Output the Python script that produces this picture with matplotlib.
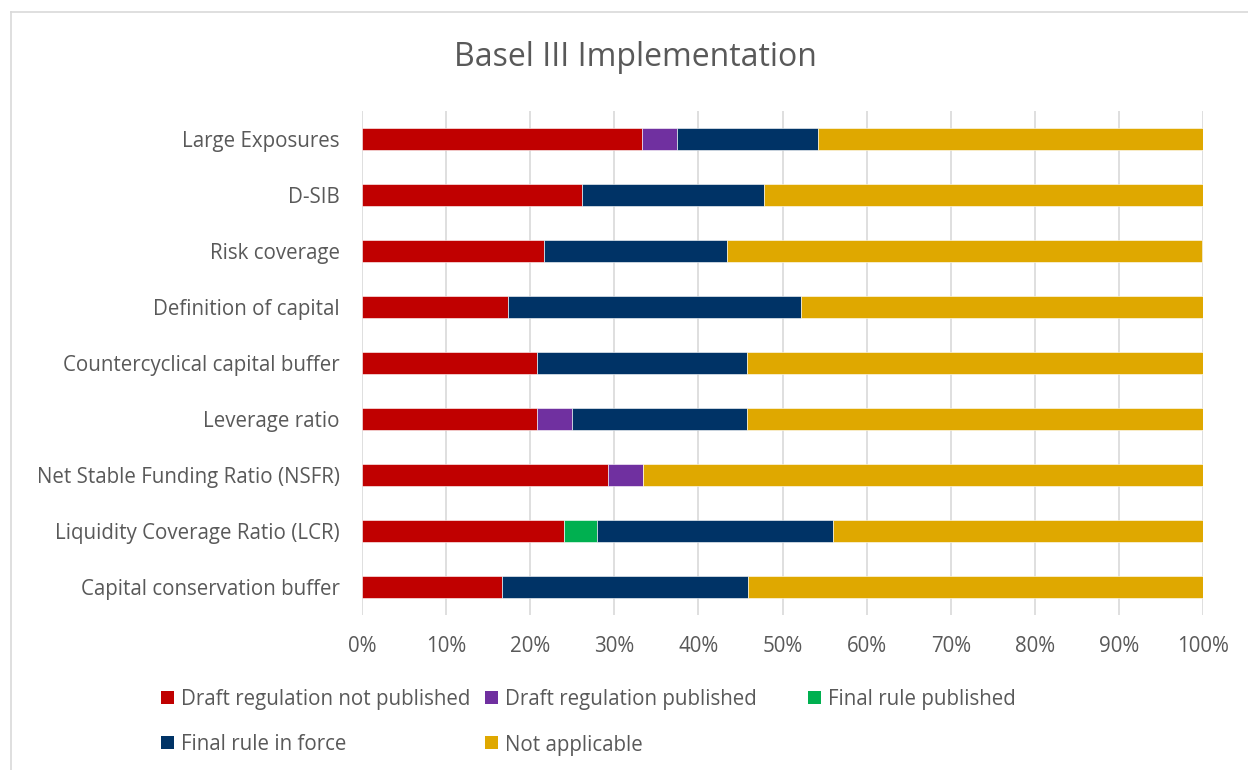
import matplotlib
matplotlib.use("Agg")
import matplotlib.pyplot as plt
import numpy as np
from matplotlib.patches import Rectangle
from matplotlib.lines import Line2D

# categories, bottom to top (as drawn on the y axis)
categories = [
    "Capital conservation buffer",
    "Liquidity Coverage Ratio (LCR)",
    "Net Stable Funding Ratio (NSFR)",
    "Leverage ratio",
    "Countercyclical capital buffer",
    "Definition of capital",
    "Risk coverage",
    "D-SIB",
    "Large Exposures",
]

# share of jurisdictions in each status (%), same order as categories
draft_not_published = [16.7, 24.0, 29.2, 20.8, 20.8, 17.4, 21.7, 26.1, 33.3]
draft_published     = [0.0, 0.0, 4.2, 4.2, 0.0, 0.0, 0.0, 0.0, 4.2]
final_published     = [0.0, 4.0, 0.0, 0.0, 0.0, 0.0, 0.0, 0.0, 0.0]
final_in_force      = [29.2, 28.0, 0.0, 20.8, 25.0, 34.8, 21.7, 21.7, 16.7]
not_applicable      = [54.2, 44.0, 66.7, 54.2, 54.2, 47.8, 56.5, 52.2, 45.8]

series = [draft_not_published, draft_published, final_published, final_in_force, not_applicable]
series_names = ["Draft regulation not published", "Draft regulation published",
                "Final rule published", "Final rule in force", "Not applicable"]
colors = ["#C00000", "#7030A0", "#00B050", "#003366", "#DFA800"]

text_color = "#595959"
plt.rcParams["font.family"] = ["Open Sans", "DejaVu Sans"]

fig = plt.figure(figsize=(12.48, 7.7), dpi=100)
W, H = 1248, 770

# chart border (only top and left edge visible in the crop)
fig.add_artist(Line2D([11 / W, 11 / W], [0, 1 - 12 / H], color="#D9D9D9", lw=1.2))
fig.add_artist(Line2D([11 / W, 1], [1 - 12 / H, 1 - 12 / H], color="#D9D9D9", lw=1.2))

ax = fig.add_axes([362 / W, (H - 615) / H, 841 / W, 504 / H])

y = np.arange(len(categories))
left = np.zeros(len(categories))
for vals, name, c in zip(series, series_names, colors):
    vals = np.array(vals)
    ax.barh(y, vals, left=left, height=0.39, color=c, edgecolor="white",
            linewidth=0.4, label=name, zorder=3)
    left += vals

ax.set_xlim(0, 100)
ax.set_ylim(-0.5, len(categories) - 0.5)
ax.set_xticks(np.arange(0, 101, 10))
ax.set_xticklabels([f"{v}%" for v in range(0, 101, 10)])
ax.set_yticks(y)
ax.set_yticklabels(categories)
ax.tick_params(axis="both", length=0, labelsize=14.8, colors=text_color)
ax.tick_params(axis="y", pad=16)
ax.tick_params(axis="x", pad=15)
ax.grid(axis="x", color="#D9D9D9", linewidth=1.2, zorder=0)
for s in ax.spines.values():
    s.set_visible(False)

fig.text(635 / W, 1 - 58 / H, "Basel III Implementation", ha="center", va="center",
         fontsize=23, color=text_color)

# legend laid out like the original (two rows)
legend_pos = [(161, 698), (485, 698), (808, 698), (161, 743), (485, 743)]
for (lx, ly), name, c in zip(legend_pos, series_names, colors):
    fig.add_artist(Rectangle((lx / W, 1 - (ly + 6) / H), 13 / W, 13 / H,
                             transform=fig.transFigure, facecolor=c, edgecolor="none"))
    fig.text((lx + 20) / W, 1 - (ly + 2) / H, name, ha="left", va="center",
             fontsize=14.8, color=text_color)

fig.savefig("out.png", dpi=100)
